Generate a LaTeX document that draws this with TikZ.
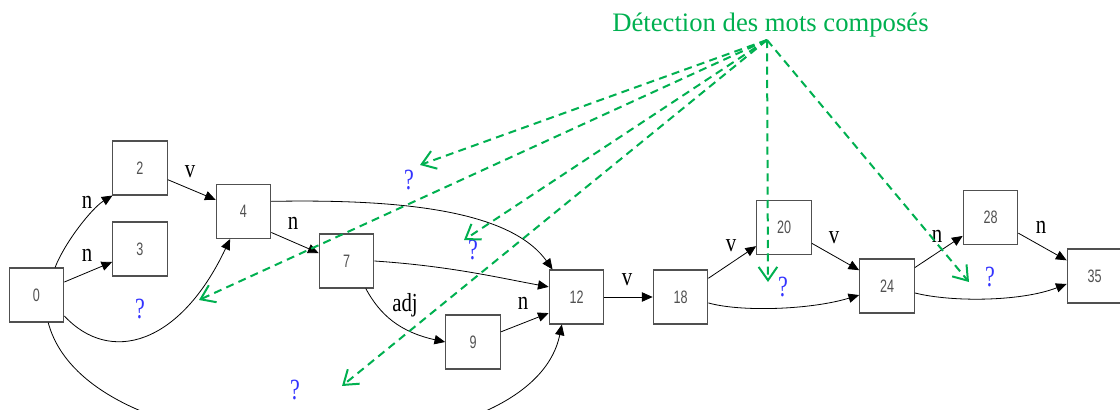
\documentclass[tikz,border=0pt]{standalone}
\usepackage{fontspec}
\setmainfont{Liberation Serif}
\newfontfamily\boxfont[FakeStretch=0.7]{Liberation Sans}
\newfontfamily\tagfont[FakeStretch=0.8]{Liberation Serif}
\newfontfamily\askfont[FakeStretch=0.75]{Liberation Serif}
\usetikzlibrary{arrows.meta}
\definecolor{MWEgreen}{HTML}{00B050}
\definecolor{ASKblue}{HTML}{3333FF}
\definecolor{BOXgrey}{HTML}{505050}

\begin{document}
\begin{tikzpicture}[x=0.75pt,y=-0.75pt,
  wordbox/.style={draw=BOXgrey,line width=0.8pt,minimum width=41pt,minimum height=40.5pt,inner sep=0pt,
    font=\boxfont\fontsize{13.5}{14}\selectfont,text=BOXgrey},
  link/.style={line width=0.6pt,-{Triangle[length=8pt,width=7pt]}},
  tag/.style={font=\tagfont\fontsize{19.5}{20}\selectfont,inner sep=0pt},
  ask/.style={font=\askfont\fontsize{22}{22}\selectfont,text=ASKblue,inner sep=0pt},
  compose/.style={MWEgreen,line width=1.5pt,dash pattern=on 6pt off 4pt,
    -{Straight Barb[length=10pt,width=14pt]}}]
\useasboundingbox (0,0) rectangle (1120,410);
\clip (0,0) rectangle (1120,410);

\node[wordbox] (n0) at (36.5,295) {0};
\node[wordbox] (n2) at (140,168) {2};
\node[wordbox] (n3) at (140,249) {3};
\node[wordbox] (n4) at (243.5,211.5) {4};
\node[wordbox] (n7) at (346.5,261) {7};
\node[wordbox] (n9) at (473,342) {9};
\node[wordbox] (n12) at (576.5,297) {12};
\node[wordbox] (n18) at (680.5,297) {18};
\node[wordbox] (n20) at (784,227.5) {20};
\node[wordbox] (n24) at (887,286) {24};
\node[wordbox] (n28) at (990.5,217.5) {28};
\node[wordbox] (n35) at (1094.5,276) {35};

\draw[link] (n0.56) .. controls (65,242) and (92,208) .. (n2.-135);
\draw[link] (n0.25) -- (n3.-155);
\draw[link] (n2) -- (n4);
\draw[link] (n0.-37) .. controls (110,365) and (180,345) .. (n4.-116);
\draw[link] (n0.-67) .. controls (90,480) and (530,480) .. (n12.-118);
\draw[link] (n4.-37) -- (n7.164);
\draw[link] (n4.20) .. controls (400,199) and (510,210) .. (n12.131);
\draw[link] (n7.east) .. controls (450,266) and (500,278) .. (n12.160);
\draw[link] (n7.-55) .. controls (380,315) and (400,332) .. (n9.west);
\draw[link] (n9.20) -- (n12.-150);
\draw[link] (n12) -- (n18);
\draw[link] (n18) -- (n20);
\draw[link] (n18.-12) .. controls (740,312) and (810,310) .. (n24.-162);
\draw[link] (n20) -- (n24);
\draw[link] (n24) -- (n28);
\draw[link] (n24.-14) .. controls (950,302) and (1020,302) .. (n35.-164);
\draw[link] (n28) -- (n35);

\node[tag] (l02) at (87,202) {n};
\node[tag] (l03) at (87,255) {n};
\node[tag] (l24) at (190,172) {v};
\node[tag] (l47) at (293,223) {n};
\node[tag] (l79) at (405,305) {adj};
\node[tag] (l912) at (523,303) {n};
\node[tag] (l1218) at (627,280) {v};
\node[tag] (l1820) at (731,246) {v};
\node[tag] (l2024) at (834,238) {v};
\node[tag] (l2428) at (937,236) {n};
\node[tag] (l2835) at (1041,227) {n};

\node[ask] (q1) at (409,180) {?};
\node[ask] (q2) at (140,309) {?};
\node[ask] (q3) at (473,250) {?};
\node[ask] (q4) at (295,390) {?};
\node[ask] (q5) at (783,287) {?};
\node[ask] (q6) at (990,277) {?};

\node[font=\fontsize{20}{24}\selectfont,text=MWEgreen] (titre) at (770.5,25.5) {Détection des mots composés};
\coordinate (src) at (767,40);
\coordinate (t1) at (420,165);
\coordinate (t2) at (199,300);
\coordinate (t3) at (464,240);
\coordinate (t4) at (342,386);
\coordinate (t5) at (768,282);
\coordinate (t6) at (969,282);
\foreach \t in {t1,t2,t3,t4,t5,t6}
  \draw[compose] (src) -- (\t);
\end{tikzpicture}
\end{document}
